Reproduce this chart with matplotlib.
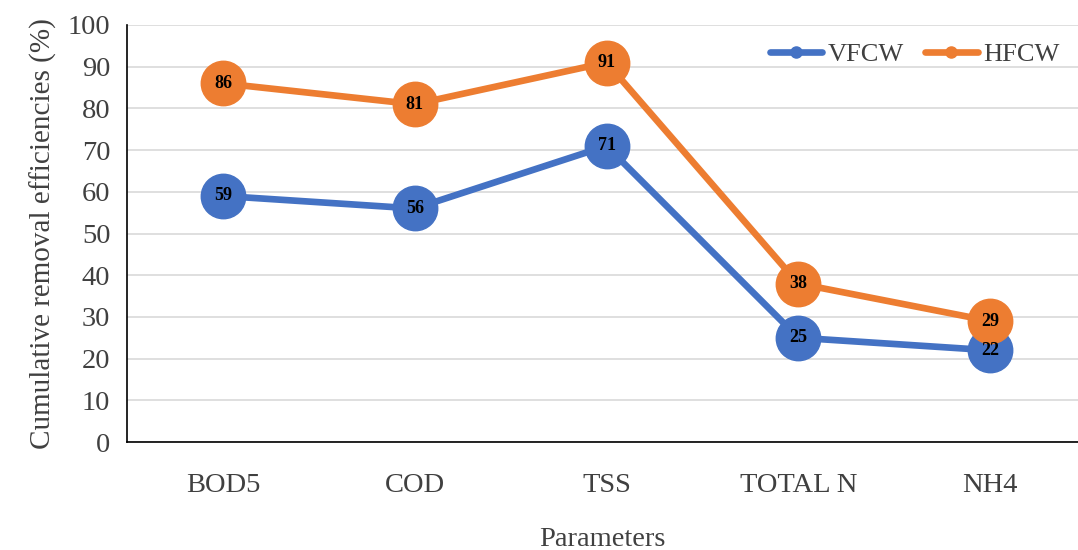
import matplotlib
matplotlib.use("Agg")
import matplotlib.pyplot as plt
from matplotlib.lines import Line2D

# removal efficiencies (%) per parameter
parameters = ["BOD5", "COD", "TSS", "TOTAL N", "NH4"]
vfcw = [59, 56, 71, 25, 22]
hfcw = [86, 81, 91, 38, 29]
y_ticks = list(range(0, 101, 10))

BLUE = "#4472C4"
ORANGE = "#ED7D31"
GREY_TEXT = "#404040"

plt.rcParams["font.family"] = ["Liberation Serif", "DejaVu Serif"]

fig = plt.figure(figsize=(10.78, 5.5), dpi=100)
ax = fig.add_axes([127 / 1078, 1 - 442 / 550, (1078 - 127) / 1078, (442 - 25) / 550])

x = list(range(len(parameters)))
for values, color in ((vfcw, BLUE), (hfcw, ORANGE)):
    ax.plot(x, values, color=color, lw=4.8, marker="o", markersize=32,
            solid_capstyle="round", zorder=3)
    for xi, v in zip(x, values):
        ax.text(xi, v, str(v), ha="center", va="center", fontsize=13,
                fontweight="bold", color="black", zorder=4)

ax.set_xlim(-0.5, 4.458)
ax.set_ylim(0, 100)
ax.set_yticks(y_ticks)
ax.set_xticks(x)
ax.set_xticklabels(parameters)
ax.grid(axis="y", color="#d9d9d9", lw=1.2, zorder=0)
ax.set_axisbelow(True)
ax.tick_params(length=0, labelsize=20.5, colors=GREY_TEXT)
ax.tick_params(axis="x", pad=22)
ax.tick_params(axis="y", pad=12)
for side in ("top", "right"):
    ax.spines[side].set_visible(False)
for side in ("left", "bottom"):
    ax.spines[side].set_color("black")
    ax.spines[side].set_linewidth(1.2)

ax.set_ylabel("Cumulative removal efficiencies (%)", fontsize=21, color=GREY_TEXT, labelpad=8)
ax.set_xlabel("Parameters", fontsize=20.5, color=GREY_TEXT, labelpad=21)

handles = [Line2D([], [], color=BLUE, lw=4.8, marker="o", markersize=8, solid_capstyle="round"),
           Line2D([], [], color=ORANGE, lw=4.8, marker="o", markersize=8, solid_capstyle="round")]
ax.legend(handles, ["VFCW", "HFCW"], loc="upper right", bbox_to_anchor=(1.0, 1.002),
          ncol=2, frameon=False, fontsize=19, labelcolor=GREY_TEXT,
          handlelength=2.0, handletextpad=0.2, columnspacing=0.8, borderaxespad=0.3)

fig.savefig("out.png", dpi=100)
